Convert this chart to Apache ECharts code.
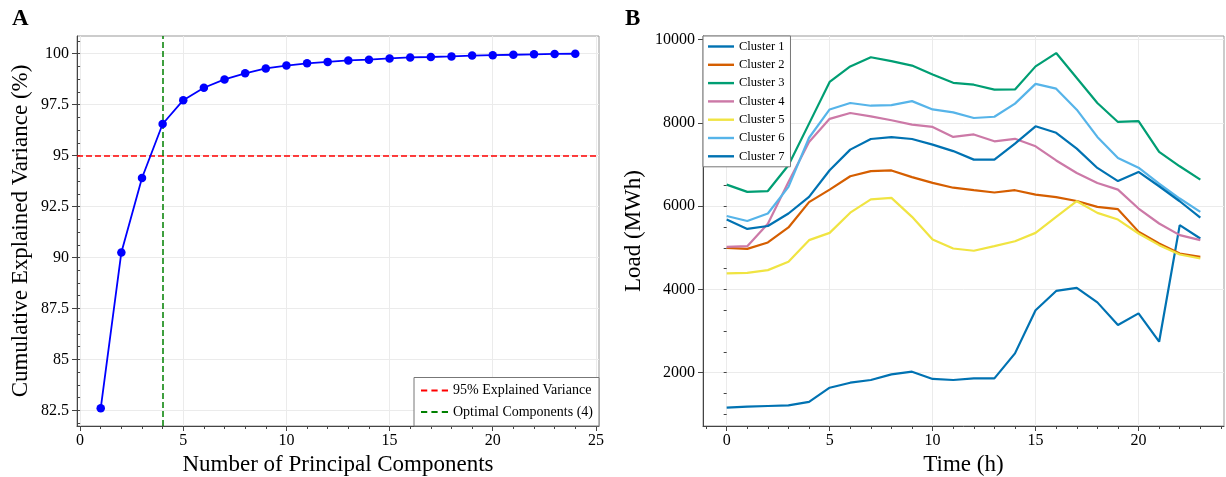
<!DOCTYPE html>
<html>
<head>
<meta charset="utf-8">
<script src="https://cdn.jsdelivr.net/npm/echarts@6/dist/echarts.min.js"></script>
<style>
  html, body { margin: 0; padding: 0; background: #fff; }
  #main { width: 1226px; height: 477px; }
</style>
</head>
<body>
<div id="main"></div>
<script>
// panel A - PCA cumulative variance
var components = [1, 2, 3, 4, 5, 6, 7, 8, 9, 10, 11, 12, 13, 14, 15, 16, 17, 18, 19, 20, 21, 22, 23, 24];
var cumVariance = [82.6, 90.25, 93.9, 96.55, 97.72, 98.33, 98.74, 99.04, 99.28, 99.42, 99.53, 99.6,
                   99.67, 99.71, 99.77, 99.82, 99.84, 99.87, 99.91, 99.93, 99.95, 99.97, 99.99, 100.0];
var varianceThreshold = 95;
var optimalComponents = 4;
var pcaXTicks = [0, 5, 10, 15, 20, 25];
var pcaYTicks = [82.5, 85, 87.5, 90, 92.5, 95, 97.5, 100];

// panel B - hourly load per cluster
var hours = [0, 1, 2, 3, 4, 5, 6, 7, 8, 9, 10, 11, 12, 13, 14, 15, 16, 17, 18, 19, 20, 21, 22, 23];
var cluster1 = [1160, 1185, 1200, 1215, 1300, 1640, 1760, 1825, 1960, 2025, 1850, 1825,
                1865, 1865, 2465, 3500, 3965, 4040, 3690, 3145, 3425, 2745, 5545, 5225];
var cluster2 = [5000, 4975, 5130, 5490, 6100, 6400, 6720, 6845, 6860, 6700, 6560, 6445,
                6385, 6330, 6385, 6280, 6220, 6125, 5985, 5930, 5390, 5105, 4865, 4785];
var cluster3 = [6520, 6345, 6365, 6985, 7985, 8985, 9360, 9580, 9485, 9380, 9165, 8965,
                8920, 8800, 8805, 9360, 9680, 9080, 8480, 8025, 8045, 7305, 6960, 6640];
var cluster4 = [5025, 5040, 5580, 6580, 7545, 8100, 8240, 8160, 8065, 7960, 7905, 7665,
                7725, 7560, 7620, 7440, 7100, 6800, 6560, 6400, 5945, 5585, 5305, 5185];
var cluster5 = [4385, 4400, 4465, 4665, 5185, 5360, 5845, 6165, 6200, 5745, 5200, 4985,
                4930, 5040, 5160, 5360, 5745, 6120, 5840, 5680, 5345, 5065, 4840, 4745];
var cluster6 = [5765, 5645, 5825, 6465, 7645, 8325, 8480, 8415, 8430, 8525, 8325, 8255,
                8120, 8150, 8465, 8940, 8825, 8320, 7665, 7160, 6925, 6545, 6185, 5865];
var cluster7 = [5680, 5455, 5525, 5825, 6225, 6865, 7360, 7615, 7660, 7615, 7480, 7325,
                7120, 7120, 7505, 7920, 7765, 7385, 6920, 6605, 6825, 6480, 6120, 5725];
var clusterNames = ['Cluster 1', 'Cluster 2', 'Cluster 3', 'Cluster 4', 'Cluster 5', 'Cluster 6', 'Cluster 7'];
var hourTicks = [0, 5, 10, 15, 20];
var loadTicks = [2000, 4000, 6000, 8000, 10000];

var clusterColors = ['#0072B2', '#D55E00', '#009E73', '#CC79A7', '#F0E442', '#56B4E9', '#0072B2'];
var serif = 'Liberation Serif';

// legend glyphs: plain line and dashed line
var solidIcon = 'path://M0,0H26V2H0Z';
var dashedIcon = 'path://M0,0H6V2H0Z M10,0H16V2H10Z M20,0H26V2H20Z';

// minor ticks between majors
function minors(majors, divs, lo, hi) {
    var step = (majors[1] - majors[0]) / divs;
    var out = [];
    var start = majors[0] - Math.floor((majors[0] - lo) / step) * step;
    for (var v = start; v <= hi + 1e-9; v += step) {
        out.push(Math.round(v * 1000) / 1000);
    }
    return out;
}

function majorAxis(grid, pos, min, max, ticks, name, gap) {
    return {
        type: 'value', gridIndex: grid, position: pos, min: min, max: max,
        name: name, nameLocation: 'middle', nameGap: gap, nameMoveOverlap: false,
        nameTextStyle: { fontFamily: serif, fontSize: 23, color: '#000' },
        axisLine: { show: true, onZero: false, lineStyle: { color: '#444', width: 1 } },
        axisTick: { show: true, customValues: ticks, length: 5, lineStyle: { color: '#444' } },
        axisLabel: { customValues: ticks, fontFamily: serif, fontSize: 16, color: '#000',
                     margin: pos === 'bottom' ? 7 : 8,
                     formatter: function (v) { return String(v); } },
        splitLine: { show: true, lineStyle: { color: '#ebebeb', width: 1 } }
    };
}

function minorAxis(grid, pos, min, max, ticks) {
    return {
        type: 'value', gridIndex: grid, position: pos, min: min, max: max,
        axisLine: { show: false },
        axisTick: { show: true, customValues: ticks, length: 3, lineStyle: { color: '#444' } },
        axisLabel: { show: false },
        splitLine: { show: false }
    };
}

var xMinA = -0.15, xMaxA = 25.15, yMinA = 81.73, yMaxA = 100.87;
var xMinB = -1.15, xMaxB = 24.15, yMinB = 720, yMaxB = 10090;

var chart = echarts.init(document.getElementById('main'), null, { renderer: 'canvas' });

var seriesB = [cluster1, cluster2, cluster3, cluster4, cluster5, cluster6, cluster7].map(function (vals, k) {
    return {
        name: clusterNames[k], type: 'line', xAxisIndex: 2, yAxisIndex: 2,
        data: hours.map(function (h, i) { return [h, vals[i]]; }),
        showSymbol: false, symbol: 'none', smooth: false,
        color: clusterColors[k],
        lineStyle: { color: clusterColors[k], width: 2.2 }
    };
});

var option = {
    animation: false,
    backgroundColor: '#fff',
    graphic: [
        { type: 'text', left: 12, top: 8, style: { text: 'A', font: 'bold 23px "Liberation Serif"', fill: '#000' } },
        { type: 'text', left: 625, top: 8, style: { text: 'B', font: 'bold 23px "Liberation Serif"', fill: '#000' } }
    ],
    grid: [
        { left: 77, top: 36, width: 522, height: 390, show: true, borderColor: '#999', borderWidth: 1,
          backgroundColor: 'transparent', outerBoundsMode: 'none', containLabel: false },
        { left: 703, top: 36, width: 521, height: 390, show: true, borderColor: '#999', borderWidth: 1,
          backgroundColor: 'transparent', outerBoundsMode: 'none', containLabel: false }
    ],
    xAxis: [
        majorAxis(0, 'bottom', xMinA, xMaxA, pcaXTicks, 'Number of Principal Components', 27),
        minorAxis(0, 'bottom', xMinA, xMaxA, minors(pcaXTicks, 5, xMinA, xMaxA)),
        majorAxis(1, 'bottom', xMinB, xMaxB, hourTicks, 'Time (h)', 27),
        minorAxis(1, 'bottom', xMinB, xMaxB, minors(hourTicks, 5, xMinB, xMaxB))
    ],
    yAxis: [
        majorAxis(0, 'left', yMinA, yMaxA, pcaYTicks, 'Cumulative Explained Variance (%)', 45),
        minorAxis(0, 'left', yMinA, yMaxA, minors(pcaYTicks, 4, yMinA, yMaxA)),
        majorAxis(1, 'left', yMinB, yMaxB, loadTicks, 'Load (MWh)', 58),
        minorAxis(1, 'left', yMinB, yMaxB, minors(loadTicks, 4, yMinB, yMaxB))
    ],
    legend: [
        {
            data: [
                { name: '95% Explained Variance', icon: dashedIcon },
                { name: 'Optimal Components (4)', icon: dashedIcon }
            ],
            orient: 'vertical', right: 627, bottom: 51, symbolKeepAspect: false,
            backgroundColor: '#fff', borderColor: '#777', borderWidth: 1, borderRadius: 0,
            padding: [6, 6, 7, 7], itemGap: 7.5, itemWidth: 27, itemHeight: 2,
            textStyle: { fontFamily: serif, fontSize: 14, color: '#000' }
        },
        {
            data: clusterNames.map(function (n) { return { name: n, icon: solidIcon }; }),
            orient: 'vertical', left: 703, top: 36, symbolKeepAspect: false,
            backgroundColor: '#fff', borderColor: '#777', borderWidth: 1, borderRadius: 0,
            padding: [4, 6, 4, 5], itemGap: 5.3, itemWidth: 26, itemHeight: 2.4,
            textStyle: { fontFamily: serif, fontSize: 12.5, color: '#000' }
        }
    ],
    series: [
        {
            name: 'Cumulative', type: 'line', xAxisIndex: 0, yAxisIndex: 0,
            data: components.map(function (c, i) { return [c, cumVariance[i]]; }),
            symbol: 'circle', symbolSize: 8.5, showSymbol: true, color: '#0000ff',
            itemStyle: { color: '#0000ff' },
            lineStyle: { color: '#0000ff', width: 1.8 },
            z: 5
        },
        {
            name: '95% Explained Variance', type: 'line', xAxisIndex: 0, yAxisIndex: 0,
            data: [], symbol: 'none', color: '#ff0000',
            lineStyle: { color: '#ff0000', width: 1.5, type: [6, 3] },
            markLine: {
                silent: true, symbol: 'none', label: { show: false },
                lineStyle: { color: '#ff0000', width: 1.5, type: [6, 3] },
                data: [{ yAxis: varianceThreshold }]
            }
        },
        {
            name: 'Optimal Components (4)', type: 'line', xAxisIndex: 0, yAxisIndex: 0,
            data: [], symbol: 'none', color: '#008000',
            lineStyle: { color: '#008000', width: 1.5, type: [6, 3] },
            markLine: {
                silent: true, symbol: 'none', label: { show: false },
                lineStyle: { color: '#008000', width: 1.5, type: [6, 3] },
                data: [{ xAxis: optimalComponents }]
            }
        }
    ].concat(seriesB)
};

chart.setOption(option);
</script>
</body>
</html>
